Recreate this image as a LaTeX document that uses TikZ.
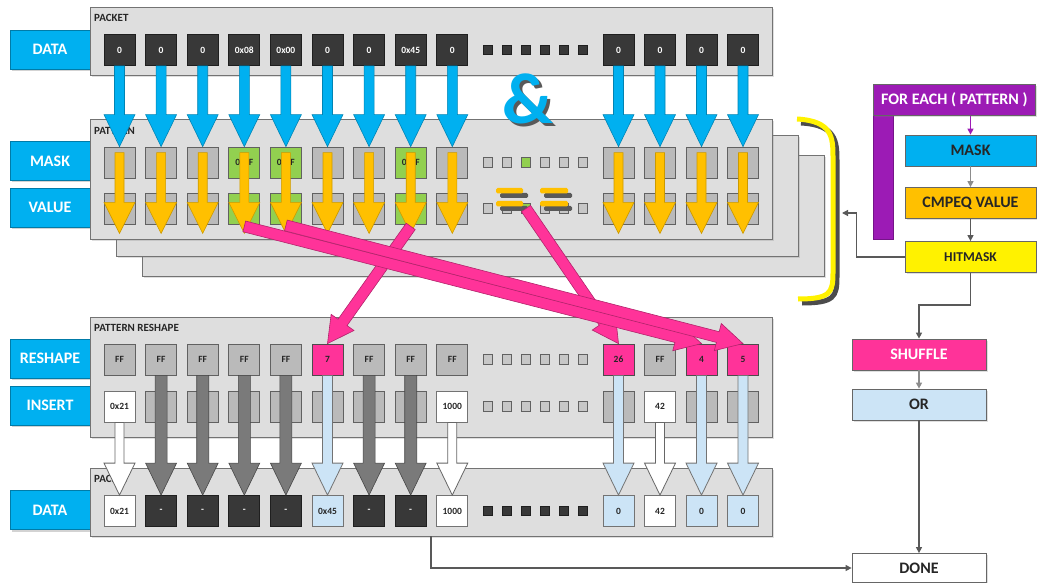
\documentclass[tikz,border=0pt]{standalone}
\usepackage{fontspec}
\setmainfont{Carlito}
\usetikzlibrary{arrows.meta,calc,shadows}

\definecolor{skyb}{HTML}{00B0F0}
\definecolor{amber}{HTML}{FFC000}
\definecolor{hotpink}{HTML}{FF3399}
\definecolor{hitgreen}{HTML}{92D050}
\definecolor{paleblue}{HTML}{CCE4F6}
\definecolor{purp}{HTML}{9C1BB5}
\definecolor{inkgray}{HTML}{262626}

% fat arrow: style, half shaft, half head, head length, from, to
\newcommand{\fatarrow}[6]{%
  \filldraw[#1] let \p1=(#5), \p2=(#6),
    \n1={atan2(\y2-\y1,\x2-\x1)}, \n2={veclen(\x2-\x1,\y2-\y1)} in
    ({\x1-(#2)*sin(\n1)},{\y1+(#2)*cos(\n1)})
    -- ({\x1+(\n2-#4)*cos(\n1)-(#2)*sin(\n1)},{\y1+(\n2-#4)*sin(\n1)+(#2)*cos(\n1)})
    -- ({\x1+(\n2-#4)*cos(\n1)-(#3)*sin(\n1)},{\y1+(\n2-#4)*sin(\n1)+(#3)*cos(\n1)})
    -- (\x2,\y2)
    -- ({\x1+(\n2-#4)*cos(\n1)+(#3)*sin(\n1)},{\y1+(\n2-#4)*sin(\n1)-(#3)*cos(\n1)})
    -- ({\x1+(\n2-#4)*cos(\n1)+(#2)*sin(\n1)},{\y1+(\n2-#4)*sin(\n1)-(#2)*cos(\n1)})
    -- ({\x1+(#2)*sin(\n1)},{\y1-(#2)*cos(\n1)}) -- cycle;}

\tikzset{
  cell/.style={draw, line width=0.8pt, minimum width=31, minimum height=31, inner sep=0pt,
    text=inkgray, font=\fontsize{9.5}{10}\selectfont\bfseries},
  dcell/.style={cell, fill=black!78, draw=black!88, text=white},
  gcell/.style={cell, fill=black!27, draw=black!62},
  hcell/.style={cell, fill=hitgreen, draw=black!62},
  pcell/.style={cell, fill=hotpink, draw=black!70},
  bcell/.style={cell, fill=paleblue, draw=black!55},
  wcell/.style={cell, fill=white, draw=black!55},
  dotd/.style={fill=black!78, draw=black!88, line width=0.6pt},
  dotl/.style={fill=black!22, draw=black!62, line width=0.8pt},
  lbl/.style={fill=skyb, draw=skyb!70!black, line width=0.8pt, text=white, minimum width=80,
    minimum height=39, inner sep=0pt, font=\fontsize{16}{18}\selectfont\bfseries,
    drop shadow={shadow xshift=2pt, shadow yshift=-2pt, opacity=0.35}},
  panel/.style={fill=black!13, draw=black!55, line width=1pt,
    drop shadow={shadow xshift=1.5pt, shadow yshift=-1.5pt, opacity=0.25}},
  ptitle/.style={anchor=west, inner sep=0pt, text=inkgray, font=\fontsize{11}{12}\selectfont\bfseries},
  flow/.style={draw=black!60, line width=0.8pt, minimum width=131, minimum height=31, inner sep=0pt,
    text=inkgray, font=\fontsize{16}{18}\selectfont\bfseries,
    drop shadow={shadow xshift=1.5pt, shadow yshift=-1.5pt, opacity=0.25}},
  flowarr/.style={draw=black!65, line width=1.3pt, -{Triangle[width=6pt,length=6pt]}},
  bluearr/.style={fill=skyb, draw=skyb!75!black, line width=0.6pt},
  orarr/.style={fill=amber, draw=amber!80!black, line width=0.6pt},
  pinkarr/.style={fill=hotpink, draw=hotpink!70!black, line width=0.6pt},
  grayarr/.style={fill=black!52, draw=black!72, line width=0.6pt},
  whtarr/.style={fill=white, draw=black!60, line width=0.8pt},
  lbarr/.style={fill=paleblue, draw=black!55, line width=0.8pt}
}

\begin{document}
\begin{tikzpicture}[x=1pt,y=-1pt]
\useasboundingbox (0,0) rectangle (1037,583);
% row labels
\node[lbl] (ldat) at (50,49.5) {DATA};
\node[lbl] (lmask) at (50,161) {MASK};
\node[lbl] (lval) at (50,207.5) {VALUE};
\node[lbl] (lres) at (50,358.5) {RESHAPE};
\node[lbl] (lins) at (50,405.5) {INSERT};
\node[lbl] (ldat2) at (50,510) {DATA};
% panels
\filldraw[panel] (142,156) rectangle (824,276);
\filldraw[panel] (116,136) rectangle (798,256);
\filldraw[panel] (90,120) rectangle (772,239);
\filldraw[panel] (90,8) rectangle (772,76);
\filldraw[panel] (90,317) rectangle (772,437);
\filldraw[panel] (90,468) rectangle (772,536);
\node[ptitle] (tpk) at (94,18) {PACKET};
\node[ptitle] (tpt) at (94,131) {PATTERN};
\node[ptitle] (trs) at (94,328) {PATTERN RESHAPE};
\node[ptitle] (tpk2) at (94,479) {PACKET};
% packet in
\node[dcell] (in1) at (119.5,50) {0};
\node[dcell] (in2) at (161.1,50) {0};
\node[dcell] (in3) at (202.7,50) {0};
\node[dcell] (in4) at (244.3,50) {0x08};
\node[dcell] (in5) at (285.9,50) {0x00};
\node[dcell] (in6) at (327.5,50) {0};
\node[dcell] (in7) at (369.1,50) {0};
\node[dcell] (in8) at (410.7,50) {0x45};
\node[dcell] (in9) at (452.3,50) {0};
\node[dcell] (in10) at (618.5,50) {0};
\node[dcell] (in11) at (660,50) {0};
\node[dcell] (in12) at (701.5,50) {0};
\node[dcell] (in13) at (743,50) {0};
\filldraw[dotd] (483.25,45.25) rectangle ++(9.5,9.5) (502.25,45.25) rectangle ++(9.5,9.5) (521.25,45.25) rectangle ++(9.5,9.5) (540.25,45.25) rectangle ++(9.5,9.5) (559.25,45.25) rectangle ++(9.5,9.5) (578.25,45.25) rectangle ++(9.5,9.5);
% mask
\node[gcell] (mk1) at (119.5,162.5) {};
\node[gcell] (mk2) at (161.1,162.5) {};
\node[gcell] (mk3) at (202.7,162.5) {};
\node[hcell] (mk4) at (244.3,162.5) {0xFF};
\node[hcell] (mk5) at (285.9,162.5) {0xFF};
\node[gcell] (mk6) at (327.5,162.5) {};
\node[gcell] (mk7) at (369.1,162.5) {};
\node[hcell] (mk8) at (410.7,162.5) {0xFF};
\node[gcell] (mk9) at (452.3,162.5) {};
\node[gcell] (mk10) at (618.5,162.5) {};
\node[gcell] (mk11) at (660,162.5) {};
\node[gcell] (mk12) at (701.5,162.5) {};
\node[gcell] (mk13) at (743,162.5) {};
\filldraw[dotl] (483.25,157.75) rectangle ++(9.5,9.5) (502.25,157.75) rectangle ++(9.5,9.5) (540.25,157.75) rectangle ++(9.5,9.5) (559.25,157.75) rectangle ++(9.5,9.5) (578.25,157.75) rectangle ++(9.5,9.5);
\filldraw[dotl, fill=hitgreen] (521.25,157.75) rectangle ++(9.5,9.5);
% value
\node[gcell] (vl1) at (119.5,208.5) {};
\node[gcell] (vl2) at (161.1,208.5) {};
\node[gcell] (vl3) at (202.7,208.5) {};
\node[hcell] (vl4) at (244.3,208.5) {};
\node[hcell] (vl5) at (285.9,208.5) {};
\node[gcell] (vl6) at (327.5,208.5) {};
\node[gcell] (vl7) at (369.1,208.5) {};
\node[hcell] (vl8) at (410.7,208.5) {};
\node[gcell] (vl9) at (452.3,208.5) {};
\node[gcell] (vl10) at (618.5,208.5) {};
\node[gcell] (vl11) at (660,208.5) {};
\node[gcell] (vl12) at (701.5,208.5) {};
\node[gcell] (vl13) at (743,208.5) {};
\filldraw[dotl] (483.25,203.75) rectangle ++(9.5,9.5) (502.25,203.75) rectangle ++(9.5,9.5) (540.25,203.75) rectangle ++(9.5,9.5) (559.25,203.75) rectangle ++(9.5,9.5) (578.25,203.75) rectangle ++(9.5,9.5);
\node[dotl, fill=hitgreen, minimum size=9.5, inner sep=0pt] (vdot) at (526,208.5) {};
% equals signs
\fill[black!65, rounded corners=1.5] (500,193) rectangle (528,198) (500,206) rectangle (528,211) (544,193) rectangle (572,198) (544,206) rectangle (572,211);
\fill[amber, rounded corners=1.5] (496,188) rectangle (523,193.5) (496,201) rectangle (523,206.5) (540,188) rectangle (568,193.5) (540,201) rectangle (568,206.5);
\node[font=\fontsize{72}{72}\selectfont\bfseries, inner sep=0pt] (amp) at (528,100)
  {\rlap{\hspace{3pt}\raisebox{-3pt}{\textcolor{black!65}{\&}}}\textcolor{skyb}{\&}};
% reshape
\node[gcell] (rs1) at (119.5,359.5) {FF};
\node[gcell] (rs2) at (161.1,359.5) {FF};
\node[gcell] (rs3) at (202.7,359.5) {FF};
\node[gcell] (rs4) at (244.3,359.5) {FF};
\node[gcell] (rs5) at (285.9,359.5) {FF};
\node[pcell] (rs6) at (327.5,359.5) {7};
\node[gcell] (rs7) at (369.1,359.5) {FF};
\node[gcell] (rs8) at (410.7,359.5) {FF};
\node[gcell] (rs9) at (452.3,359.5) {FF};
\node[pcell] (rs10) at (618.5,359.5) {26};
\node[gcell] (rs11) at (660,359.5) {FF};
\node[pcell] (rs12) at (701.5,359.5) {4};
\node[pcell] (rs13) at (743,359.5) {5};
\filldraw[dotl] (483.25,354.75) rectangle ++(9.5,9.5) (502.25,354.75) rectangle ++(9.5,9.5) (521.25,354.75) rectangle ++(9.5,9.5) (540.25,354.75) rectangle ++(9.5,9.5) (559.25,354.75) rectangle ++(9.5,9.5) (578.25,354.75) rectangle ++(9.5,9.5);
% insert
\node[wcell] (ins1) at (119.5,406.5) {0x21};
\node[gcell] (ins2) at (161.1,406.5) {};
\node[gcell] (ins3) at (202.7,406.5) {};
\node[gcell] (ins4) at (244.3,406.5) {};
\node[gcell] (ins5) at (285.9,406.5) {};
\node[gcell] (ins6) at (327.5,406.5) {};
\node[gcell] (ins7) at (369.1,406.5) {};
\node[gcell] (ins8) at (410.7,406.5) {};
\node[wcell] (ins9) at (452.3,406.5) {1000};
\node[gcell] (ins10) at (618.5,406.5) {};
\node[wcell] (ins11) at (660,406.5) {42};
\node[gcell] (ins12) at (701.5,406.5) {};
\node[gcell] (ins13) at (743,406.5) {};
\filldraw[dotl] (483.25,401.75) rectangle ++(9.5,9.5) (502.25,401.75) rectangle ++(9.5,9.5) (521.25,401.75) rectangle ++(9.5,9.5) (540.25,401.75) rectangle ++(9.5,9.5) (559.25,401.75) rectangle ++(9.5,9.5) (578.25,401.75) rectangle ++(9.5,9.5);
% packet out
\node[wcell] (out1) at (119.5,511) {0x21};
\node[dcell] (out2) at (161.1,511) {-};
\node[dcell] (out3) at (202.7,511) {-};
\node[dcell] (out4) at (244.3,511) {-};
\node[dcell] (out5) at (285.9,511) {-};
\node[bcell] (out6) at (327.5,511) {0x45};
\node[dcell] (out7) at (369.1,511) {-};
\node[dcell] (out8) at (410.7,511) {-};
\node[wcell] (out9) at (452.3,511) {1000};
\node[bcell] (out10) at (618.5,511) {0};
\node[wcell] (out11) at (660,511) {42};
\node[bcell] (out12) at (701.5,511) {0};
\node[bcell] (out13) at (743,511) {0};
\filldraw[dotd] (483.25,506.25) rectangle ++(9.5,9.5) (502.25,506.25) rectangle ++(9.5,9.5) (521.25,506.25) rectangle ++(9.5,9.5) (540.25,506.25) rectangle ++(9.5,9.5) (559.25,506.25) rectangle ++(9.5,9.5) (578.25,506.25) rectangle ++(9.5,9.5);
% packet & mask
\fatarrow{bluearr}{5}{15.5}{32}{in1.south}{mk1.north}
\fatarrow{bluearr}{5}{15.5}{32}{in2.south}{mk2.north}
\fatarrow{bluearr}{5}{15.5}{32}{in3.south}{mk3.north}
\fatarrow{bluearr}{5}{15.5}{32}{in4.south}{mk4.north}
\fatarrow{bluearr}{5}{15.5}{32}{in5.south}{mk5.north}
\fatarrow{bluearr}{5}{15.5}{32}{in6.south}{mk6.north}
\fatarrow{bluearr}{5}{15.5}{32}{in7.south}{mk7.north}
\fatarrow{bluearr}{5}{15.5}{32}{in8.south}{mk8.north}
\fatarrow{bluearr}{5}{15.5}{32}{in9.south}{mk9.north}
\fatarrow{bluearr}{5}{15.5}{32}{in10.south}{mk10.north}
\fatarrow{bluearr}{5}{15.5}{32}{in11.south}{mk11.north}
\fatarrow{bluearr}{5}{15.5}{32}{in12.south}{mk12.north}
\fatarrow{bluearr}{5}{15.5}{32}{in13.south}{mk13.north}
% compare with value
\fatarrow{orarr}{4.5}{15.5}{31}{$(mk1.north)+(0,6)$}{$(vl1.south)+(0,9)$}
\fatarrow{orarr}{4.5}{15.5}{31}{$(mk2.north)+(0,6)$}{$(vl2.south)+(0,9)$}
\fatarrow{orarr}{4.5}{15.5}{31}{$(mk3.north)+(0,6)$}{$(vl3.south)+(0,9)$}
\fatarrow{orarr}{4.5}{15.5}{31}{$(mk4.north)+(0,6)$}{$(vl4.south)+(0,9)$}
\fatarrow{orarr}{4.5}{15.5}{31}{$(mk5.north)+(0,6)$}{$(vl5.south)+(0,9)$}
\fatarrow{orarr}{4.5}{15.5}{31}{$(mk6.north)+(0,6)$}{$(vl6.south)+(0,9)$}
\fatarrow{orarr}{4.5}{15.5}{31}{$(mk7.north)+(0,6)$}{$(vl7.south)+(0,9)$}
\fatarrow{orarr}{4.5}{15.5}{31}{$(mk8.north)+(0,6)$}{$(vl8.south)+(0,9)$}
\fatarrow{orarr}{4.5}{15.5}{31}{$(mk9.north)+(0,6)$}{$(vl9.south)+(0,9)$}
\fatarrow{orarr}{4.5}{15.5}{31}{$(mk10.north)+(0,6)$}{$(vl10.south)+(0,9)$}
\fatarrow{orarr}{4.5}{15.5}{31}{$(mk11.north)+(0,6)$}{$(vl11.south)+(0,9)$}
\fatarrow{orarr}{4.5}{15.5}{31}{$(mk12.north)+(0,6)$}{$(vl12.south)+(0,9)$}
\fatarrow{orarr}{4.5}{15.5}{31}{$(mk13.north)+(0,6)$}{$(vl13.south)+(0,9)$}
% reshape / insert into packet
\fatarrow{whtarr}{4.5}{15.5}{32}{ins1.south}{out1.north}
\fatarrow{grayarr}{6}{15.5}{32}{rs2.south}{out2.north}
\fatarrow{grayarr}{6}{15.5}{32}{rs3.south}{out3.north}
\fatarrow{grayarr}{6}{15.5}{32}{rs4.south}{out4.north}
\fatarrow{grayarr}{6}{15.5}{32}{rs5.south}{out5.north}
\fatarrow{lbarr}{5}{15.5}{32}{rs6.south}{out6.north}
\fatarrow{grayarr}{6}{15.5}{32}{rs7.south}{out7.north}
\fatarrow{grayarr}{6}{15.5}{32}{rs8.south}{out8.north}
\fatarrow{whtarr}{4.5}{15.5}{32}{ins9.south}{out9.north}
\fatarrow{lbarr}{5}{15.5}{32}{rs10.south}{out10.north}
\fatarrow{whtarr}{4.5}{15.5}{32}{ins11.south}{out11.north}
\fatarrow{lbarr}{5}{15.5}{32}{rs12.south}{out12.north}
\fatarrow{lbarr}{5}{15.5}{32}{rs13.south}{out13.north}
% hits into reshape
\fatarrow{pinkarr}{5.5}{14}{26}{vdot.center}{rs10.north}
\fatarrow{pinkarr}{5.5}{14}{26}{$(vl8.south)+(0,2)$}{rs6.north}
\fatarrow{pinkarr}{5.5}{14}{26}{$(vl4.south)+(0,2)$}{rs12.north}
\fatarrow{pinkarr}{5.5}{14}{26}{$(vl5.south)+(0,1)$}{rs13.north}
% bracket
\draw[line width=5pt, black!70] (801,123) .. controls (836,125) and (837,141) .. (837,161) -- (837,277) .. controls (837,297) and (834,303) .. (802,303);
\draw[line width=5pt, yellow] (797,119) .. controls (832,121) and (833,137) .. (833,157) -- (833,273) .. controls (833,293) and (830,299) .. (798,299);
% loop per pattern
\filldraw[fill=purp, draw=purp!75!black, line width=0.8pt] (873,115) rectangle (893,239);
\node[flow, fill=purp, text=white, minimum width=162, anchor=north west] (fe) at (873,84) {FOR EACH ( PATTERN )};
\node[flow, fill=skyb] (fmask) at (970.5,150.5) {MASK};
\node[flow, fill=amber] (fcmp) at (970.5,203) {CMPEQ VALUE};
\node[flow, fill=yellow, font=\fontsize{13.5}{15}\selectfont\bfseries] (fhit) at (970.5,257) {HITMASK};
\node[flow, fill=hotpink, text=white, minimum width=134] (fshuf) at (919,354.5) {SHUFFLE};
\node[flow, fill=paleblue, minimum width=134] (fcomb) at (919,404.5) {OR};
\node[flow, fill=white, minimum width=134, minimum height=29] (fdone) at (919,568) {DONE};
\coordinate (brk) at (842,213);
\coordinate (pkbot) at (431,536);
\draw[flowarr, draw=purp] (fmask.north |- fe.south) -- (fmask.north);
\draw[flowarr, draw=black!45] (fmask) -- (fcmp);
\draw[flowarr] (fcmp) -- (fhit);
\draw[flowarr] (fhit.west) -- ++(-48,0) |- (brk);
\draw[flowarr] (fhit.south) -- ++(0,32) -| (fshuf.north);
\draw[flowarr, draw=black!45] (fshuf) -- (fcomb);
\draw[flowarr] (fcomb) -- (fdone);
\draw[flowarr] (pkbot) |- (fdone.west);
\end{tikzpicture}
\end{document}
